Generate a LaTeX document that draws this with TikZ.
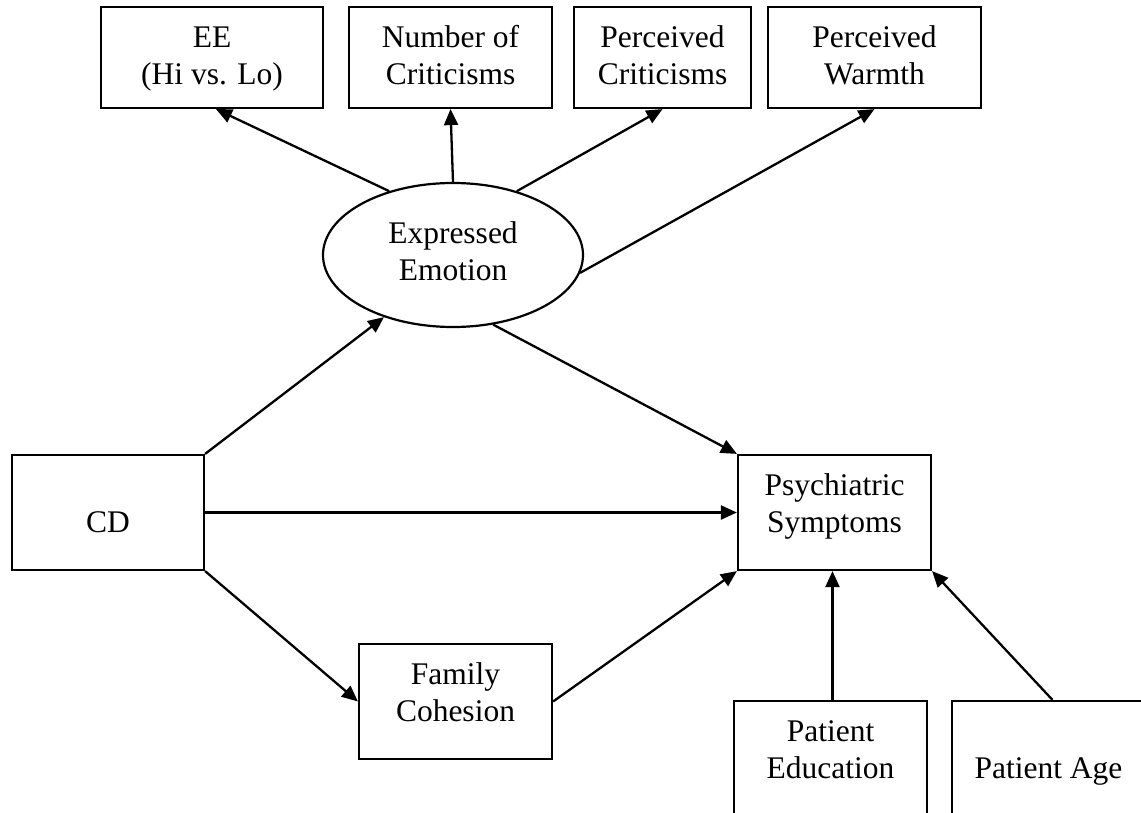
\documentclass[tikz,border=0pt]{standalone}
\usepackage{fontspec}
\setmainfont{Liberation Serif}
\usetikzlibrary{arrows.meta,shapes.geometric}
\newcommand\bxtxt[2]{\raisebox{#1}[\height][\depth]{\begin{tabular}{@{}c@{}}#2\end{tabular}}}
\tikzset{
  box/.style={draw=black, line width=1.1pt, rectangle, align=center, inner sep=0pt,
    minimum height=#1, font=\fontsize{15.75}{18.5}\selectfont},
  box/.default=50.5pt,
  ell/.style={draw=black, line width=1.1pt, ellipse, align=center, inner sep=0pt,
    minimum width=130pt, minimum height=72pt, font=\fontsize{15.75}{18.5}\selectfont},
  arr/.style={line width=1.15pt, -{Triangle[length=8pt,width=7pt]}}
}
\begin{document}
\begin{tikzpicture}[x=0.5pt,y=-0.5pt]
\useasboundingbox (0,0) rectangle (1141,813);
\clip (0,0) rectangle (1141,813);
% top boxes
\node[box, minimum width=111pt] (ee) at (212,57.5) {\bxtxt{-0.5pt}{EE\\(Hi vs. Lo)}};
\node[box, minimum width=101.5pt] (noc) at (450.5,57.5) {\bxtxt{-0.5pt}{Number of\\Criticisms}};
\node[box, minimum width=88.5pt] (pc) at (662.5,57.5) {\bxtxt{-0.5pt}{Perceived\\Criticisms}};
\node[box, minimum width=106.5pt] (pw) at (874.5,57.5) {\bxtxt{-0.5pt}{Perceived\\Warmth}};
% latent
\node[ell] (em) at (453,255) {\bxtxt{0pt}{Expressed\\Emotion}};
% middle
\node[box=57.5pt, minimum width=96pt] (cd) at (108,512.5) {\bxtxt{3pt}{\\CD}};
\node[box=57.5pt, minimum width=96.5pt] (psy) at (834.5,512.5) {\bxtxt{3pt}{Psychiatric\\Symptoms}};
\node[box=57.5pt, minimum width=96.5pt] (fam) at (455.5,701.5) {\bxtxt{3pt}{Family\\Cohesion}};
\node[box=57.5pt, minimum width=96.5pt] (ped) at (830.5,758.5) {\bxtxt{3pt}{Patient\\Education}};
\node[box=57.5pt, minimum width=96.5pt] (age) at (1048.5,758.5) {\bxtxt{3pt}{\\Patient Age}};
% arrows from latent
\draw[arr] (em.135) -- ([xshift=2pt]ee.south);
\draw[arr] (em.north) -- (noc.south);
\draw[arr] (em.45) -- (pc.south);
\draw[arr] (em.-8) -- (pw.south);
\draw[arr] (em.-60) -- (psy.north west);
% from CD
\draw[arr] (cd.north east) -- (em.-138);
\draw[arr] (cd.east) -- (psy.west);
\draw[arr] (cd.south east) -- (fam.west);
\draw[arr] (fam.east) -- (psy.south west);
% covariates
\coordinate (pedtop) at ([xshift=1pt]ped.north);
\draw[arr] (pedtop) -- (pedtop |- psy.south);
\draw[arr] ([xshift=2pt]age.north) -- (psy.south east);
\end{tikzpicture}
\end{document}
